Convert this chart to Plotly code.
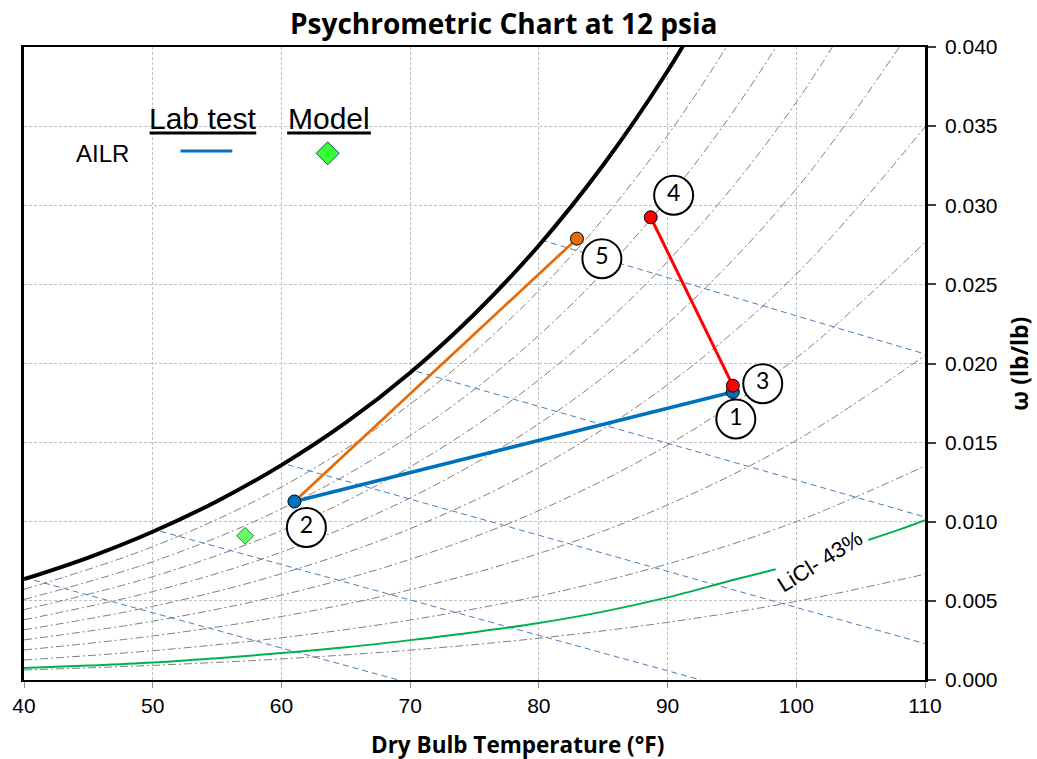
import plotly.graph_objects as go

# ---------------- data ----------------
# saturation curve (100 % RH) at 12 psia
T_SAT = [40, 45, 50, 55, 60, 65, 70, 75, 80, 85, 90, 95]
W_SAT = [0.00637, 0.00774, 0.00937, 0.01130, 0.01358, 0.01626, 0.01942,
         0.02313, 0.02746, 0.03254, 0.03848, 0.04541]

# relative humidity curves 10 % ... 90 %
T_RH = [40, 50, 60, 70, 80, 90, 100, 110]
RH10 = [0.000632, 0.000925, 0.001332, 0.001889, 0.002641, 0.003645, 0.004966, 0.006689]
RH20 = [0.001264, 0.001852, 0.002669, 0.003790, 0.005305, 0.007332, 0.010012, 0.013523]
RH30 = [0.001899, 0.002782, 0.004012, 0.005702, 0.007992, 0.011063, 0.015139, 0.020507]
RH40 = [0.002534, 0.003715, 0.005361, 0.007626, 0.010702, 0.014839, 0.020350, 0.027647]
RH50 = [0.003171, 0.004651, 0.006716, 0.009561, 0.013435, 0.018660, 0.025648, 0.034947]
RH60 = [0.003809, 0.005590, 0.008077, 0.011509, 0.016192, 0.022528, 0.031033, 0.042413]
RH70 = [0.004448, 0.006531, 0.009444, 0.013469, 0.018974, 0.026442, 0.036510, 0.050050]
RH80 = [0.005089, 0.007475, 0.010816, 0.015441, 0.021779, 0.030404, 0.042078, 0.057870]
RH90 = [0.005731, 0.008422, 0.012195, 0.017425, 0.024609, 0.034415, 0.047741, 0.065900]
RH_SERIES = [RH10, RH20, RH30, RH40, RH50, RH60, RH70, RH80, RH90]

# wet-bulb lines (start on saturation, end on chart border)
WB_T0 = [40.8, 50.6, 60.5, 70.5, 80.2]
WB_W0 = [0.0063, 0.0094, 0.0136, 0.0195, 0.0278]
WB_T1 = [69.1, 92.6, 110.0, 110.0, 110.0]
WB_W1 = [0.0, 0.0, 0.0023, 0.0103, 0.0206]

# LiCl 43 % equilibrium curve (two pieces around its label)
LICL_T1 = [40, 45, 50, 55, 60, 65, 70, 75, 80, 85, 90, 95, 98.4]
LICL_W1 = [0.00076, 0.00091, 0.00110, 0.00138, 0.00170, 0.00207, 0.00252,
           0.00302, 0.00360, 0.00432, 0.00522, 0.00630, 0.00700]
LICL_T2 = [105.6, 108, 110]
LICL_W2 = [0.00885, 0.00950, 0.01010]

# state points 1..5
PT_LABELS = ["1", "2", "3", "4", "5"]
PT_T = [95.07, 61.01, 95.07, 88.69, 82.96]
PT_W = [0.01820, 0.01128, 0.01860, 0.02924, 0.02789]

# model point
MODEL_T = [57.18]
MODEL_W = [0.00911]

X_TICKS = [40, 50, 60, 70, 80, 90, 100, 110]

# ---------------- layout constants ----------------
FIG_W, FIG_H = 1037, 759
ML, MR, MT, MB = 21, 112, 47, 79
PW = FIG_W - ML - MR
PH = FIG_H - MT - MB
XR = (40, 110)
YR = (0.0, 0.040)

# circle label offsets from their points (pixels, right / down)
LABEL_OFFS = [(3, 27), (12, 26), (30, -2), (23, -22), (25, 20)]


def px2paper(xp, yp):
    return (xp - ML) / PW, (FIG_H - MB - yp) / PH


def dpx(dx, dy):
    return dx * (XR[1] - XR[0]) / PW, -dy * (YR[1] - YR[0]) / PH


BLUE = "#0070C0"
ORANGE = "#E46C0A"
RED = "#FF0000"
GRAY = "#7F7F7F"
WB_BLUE = "#4A7EBB"
GREEN = "#00B050"
TXT = "Arial, Liberation Sans, sans-serif"
CAL = "Open Sans, Lato, sans-serif"
DIG = "Lato, Open Sans, sans-serif"

fig = go.Figure()

# RH lines
for s in RH_SERIES:
    fig.add_trace(go.Scatter(x=T_RH, y=s, mode="lines", line_shape="spline",
                             line=dict(color=GRAY, width=1, dash="8px,3px,2px,3px"),
                             hoverinfo="skip", showlegend=False))

# wet-bulb lines
for i in range(len(WB_T0)):
    fig.add_trace(go.Scatter(x=[WB_T0[i], WB_T1[i]], y=[WB_W0[i], WB_W1[i]], mode="lines",
                             line=dict(color=WB_BLUE, width=1, dash="6px,4px"),
                             hoverinfo="skip", showlegend=False))

# LiCl curve
fig.add_trace(go.Scatter(x=LICL_T1, y=LICL_W1, mode="lines", line_shape="spline",
                         line=dict(color=GREEN, width=2), showlegend=False))
fig.add_trace(go.Scatter(x=LICL_T2, y=LICL_W2, mode="lines", line_shape="spline",
                         line=dict(color=GREEN, width=2), showlegend=False))

# saturation curve
fig.add_trace(go.Scatter(x=T_SAT, y=W_SAT, mode="lines", line_shape="spline",
                         line=dict(color="black", width=4), showlegend=False))

# model point
fig.add_trace(go.Scatter(x=MODEL_T, y=MODEL_W, mode="markers",
                         marker=dict(symbol="diamond", size=13, color="#66FF66",
                                     line=dict(color="#2E7D32", width=1)),
                         showlegend=False))

# circled labels
lx, ly = [], []
for i in range(len(PT_T)):
    ddx, ddy = dpx(*LABEL_OFFS[i])
    lx.append(PT_T[i] + ddx)
    ly.append(PT_W[i] + ddy)
fig.add_trace(go.Scatter(x=lx, y=ly, mode="markers+text", text=PT_LABELS,
                         textposition="middle center",
                         textfont=dict(family=DIG, size=23, color="black"),
                         marker=dict(symbol="circle", size=39, color="white",
                                     line=dict(color="black", width=2)),
                         showlegend=False, cliponaxis=False))

# process lines
fig.add_trace(go.Scatter(x=[PT_T[1], PT_T[4]], y=[PT_W[1], PT_W[4]], mode="lines",
                         line=dict(color=ORANGE, width=2.75), showlegend=False))
fig.add_trace(go.Scatter(x=[PT_T[1], PT_T[0]], y=[PT_W[1], PT_W[0]], mode="lines",
                         line=dict(color=BLUE, width=3.5), showlegend=False))
fig.add_trace(go.Scatter(x=[PT_T[3], PT_T[2]], y=[PT_W[3], PT_W[2]], mode="lines",
                         line=dict(color=RED, width=3), showlegend=False))

# point markers
PT_COLORS = [BLUE, BLUE, RED, RED, ORANGE]
for i in [0, 1, 4, 3, 2]:
    fig.add_trace(go.Scatter(x=[PT_T[i]], y=[PT_W[i]], mode="markers",
                             marker=dict(size=13, color=PT_COLORS[i],
                                         line=dict(color="black", width=1)),
                             showlegend=False))

# ---------------- legend box (drawn manually) ----------------
shapes = []
x0, y0 = px2paper(68, 165)
x1, y1 = px2paper(368, 88)
shapes.append(dict(type="rect", xref="paper", yref="paper", x0=x0, y0=y0, x1=x1, y1=y1,
                   fillcolor="white", line=dict(width=0), layer="between"))
for (a, b) in [(147, 254), (285, 369)]:
    ux0, uy = px2paper(a, 133)
    ux1, _ = px2paper(b, 133)
    shapes.append(dict(type="line", xref="paper", yref="paper", x0=ux0, x1=ux1, y0=uy, y1=uy,
                       line=dict(color="black", width=3), layer="above"))
bx0, by = px2paper(178, 151)
bx1, _ = px2paper(230, 151)
shapes.append(dict(type="line", xref="paper", yref="paper", x0=bx0, x1=bx1, y0=by, y1=by,
                   line=dict(color=BLUE, width=3), layer="above"))
dcx, dcy = px2paper(325.7, 153.3)
shapes.append(dict(type="path", xref="paper", yref="paper", xsizemode="pixel", ysizemode="pixel",
                   xanchor=dcx, yanchor=dcy, path="M -11.5 0 L 0 11.5 L 11.5 0 L 0 -11.5 Z",
                   fillcolor="#33FF33", line=dict(color="#1F497D", width=1), layer="above"))

annotations = []


def ann(text, xp, yp, size, family=TXT, bold=False, angle=0, xanchor="center"):
    ax_, ay_ = px2paper(xp, yp)
    t = f"<b>{text}</b>" if bold else text
    annotations.append(dict(text=t, x=ax_, y=ay_, xref="paper", yref="paper",
                            xanchor=xanchor, yanchor="middle", showarrow=False,
                            textangle=angle, font=dict(family=family, size=size, color="black")))


ann("AILR", 100, 153, 24)
ann("Lab test", 200, 119, 30)
ann("Model", 327, 119, 30)
ann("Psychrometric Chart at 12 psia", 502.5, 23, 28, family=CAL, bold=True)
ann("Dry Bulb Temperature (°F)", 516, 744, 22.5, family=CAL, bold=True)
ann("ω (lb/lb)", 1019, 364, 23, family=CAL, bold=True, angle=-90)
ann("LiCl- 43%", 819, 561, 22, angle=-32)

fig.update_layout(
    width=FIG_W, height=FIG_H,
    margin=dict(l=ML, r=MR, t=MT, b=MB, pad=0),
    paper_bgcolor="white", plot_bgcolor="white",
    shapes=shapes, annotations=annotations,
    showlegend=False,
    xaxis=dict(range=list(XR), tickvals=X_TICKS, showgrid=True, gridcolor="#BFBFBF",
               griddash="3px,2px", gridwidth=1, zeroline=False,
               showline=True, linecolor="black", linewidth=2, mirror=True,
               ticks="outside", ticklen=6, tickcolor="#8C8C8C",
               tickfont=dict(family=TXT, size=21, color="black")),
    yaxis=dict(range=list(YR), dtick=0.005, tickformat=".3f", side="right",
               showgrid=True, gridcolor="#BFBFBF", griddash="3px,2px", gridwidth=1,
               zeroline=False, showline=True, linecolor="black", linewidth=2.5, mirror=True,
               ticks="outside", ticklen=8, tickwidth=2, tickcolor="#404040",
               ticklabelstandoff=5,
               tickfont=dict(family=TXT, size=21, color="black")),
)

fig.write_html("out.html")
